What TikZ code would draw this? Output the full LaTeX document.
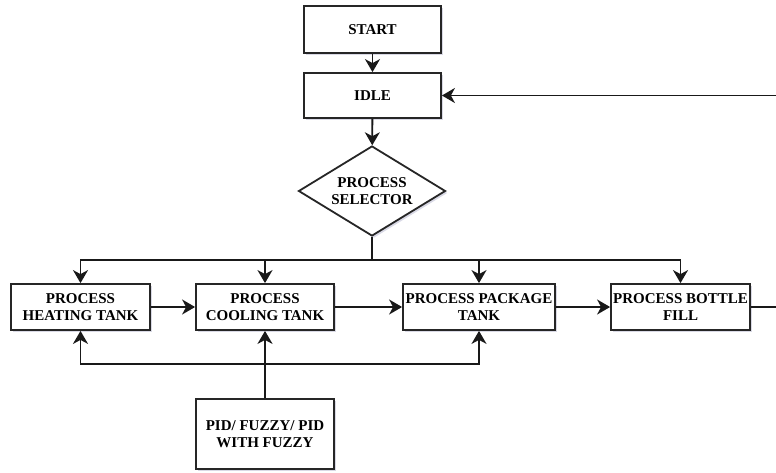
\documentclass[tikz,border=0pt]{standalone}
\usepackage{fontspec}
\setmainfont{Liberation Serif}
\usetikzlibrary{shapes.geometric,arrows.meta,shadows}
\begin{document}
\begin{tikzpicture}[x=1pt,y=-1pt,
  box/.style={draw=black!85, line width=1.8pt, fill=white, rectangle, inner sep=0pt,
    align=center, font=\fontsize{15}{17.5}\selectfont\bfseries,
    drop shadow={shadow xshift=2pt, shadow yshift=-2pt, opacity=0.25, fill=blue!20!gray}},
  dia/.style={draw=black!85, line width=1.8pt, fill=white, diamond, inner sep=0pt, aspect=1.63,
    align=center, font=\fontsize{15}{17.5}\selectfont\bfseries,
    drop shadow={shadow xshift=2pt, shadow yshift=-2pt, opacity=0.25, fill=blue!20!gray}},
  arr/.style={draw=black!90, line width=1.8pt, -{Stealth[length=13pt,width=15pt,inset=4pt]}},
  ln/.style={draw=black!90, line width=1.8pt}]
\useasboundingbox (0,0) rectangle (776,472);
\node[box, minimum width=137, minimum height=47] (start) at (372.5,29.5) {START};
\node[box, minimum width=137, minimum height=45] (idle) at (372.5,95.5) {IDLE};
\node[dia, minimum width=147, minimum height=90] (sel) at (372,191) {PROCESS\\SELECTOR};
\node[box, minimum width=139, minimum height=46] (heat) at (80.5,307) {PROCESS\\HEATING TANK};
\node[box, minimum width=138, minimum height=46] (cool) at (265,307) {PROCESS\\COOLING TANK};
\node[box, minimum width=152, minimum height=46] (pack) at (479,307) {PROCESS PACKAGE\\TANK};
\node[box, minimum width=139, minimum height=46] (bottle) at (680.5,307) {PROCESS BOTTLE\\FILL};
\node[box, minimum width=138, minimum height=70] (pid) at (265,434) {PID/ FUZZY/ PID\\WITH FUZZY};
\coordinate (busc) at (372,260);
\coordinate (bot) at (265,364);
\coordinate (rin) at (777,95.5);
\coordinate (rout) at (777,307);
\draw[arr] (start) -- (idle);
\draw[arr] (idle) -- (sel);
\draw[ln] (sel.south) -- (busc);
\draw[arr] (busc) -| (heat.north);
\draw[arr] (busc) -| (cool.north);
\draw[arr] (busc) -| (pack.north);
\draw[arr] (busc) -| (bottle.north);
\draw[arr] (heat) -- (cool);
\draw[arr] (cool) -- (pack);
\draw[arr] (pack) -- (bottle);
\draw[ln] (bottle) -- (rout);
\draw[arr] (rin) -- (idle.east);
\draw[arr, line width=2.6pt] (pid) -- (cool);
\draw[arr] (bot) -| (heat.south);
\draw[arr] (bot) -| (pack.south);
\end{tikzpicture}
\end{document}
